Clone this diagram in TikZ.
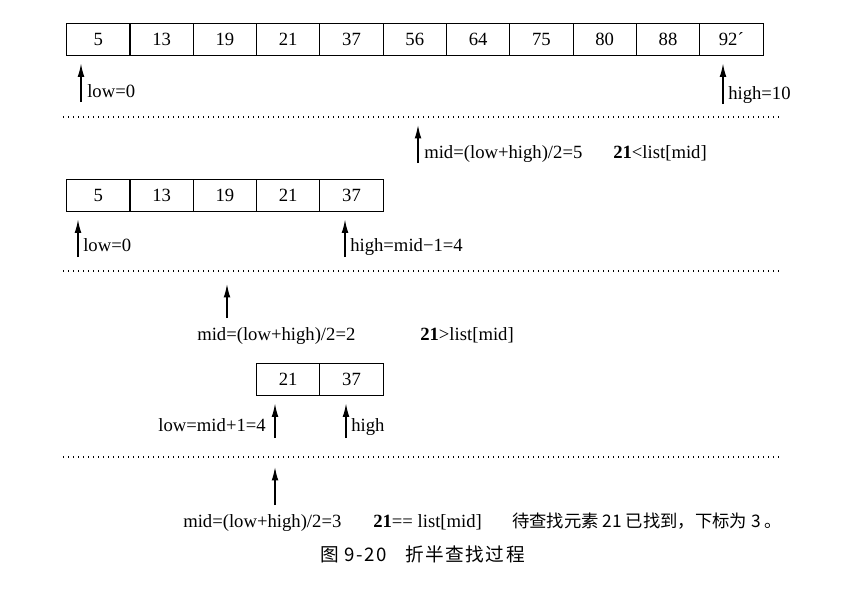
\documentclass[tikz,border=0pt]{standalone}
\usepackage{fontspec}
\setmainfont{Liberation Serif}
\newfontfamily\cjk{Noto Sans CJK SC}
\newfontfamily\cjkwide[LetterSpace=8]{Noto Sans CJK SC}
\usetikzlibrary{arrows.meta,positioning}
\tikzset{
	cell/.style={draw,line width=0.7pt,minimum width=47.5pt,minimum height=24pt,
		inner sep=0pt,font=\fontsize{14}{16}\selectfont},
	ptr/.style={-{Latex[length=10pt,width=5pt]},line width=1pt},
	gap/.style={shorten >=6pt},
	lbl/.style={inner sep=0pt,font=\fontsize{14}{16}\selectfont},
	zh/.style={inner sep=0pt,font=\fontsize{13}{16}\cjk},
	sep/.style={line width=0.9pt,dash pattern=on 0.75pt off 3pt},
}
\begin{document}
\begin{tikzpicture}[x=0.75pt,y=-0.75pt]
	\useasboundingbox (0,0) rectangle (853,590);
	% whole list
	\foreach \v [count=\i from 0] in {5,13,19,21,37,56,64,75,80,88,92´}
		\node[cell] (a\i) at (98.3+63.3*\i,39) {\v};
	\coordinate (lo1) at (81,102);
	\draw[ptr,gap] (lo1) -- (lo1 |- a0.south);
	\node[lbl,anchor=base west] (lo1t) at (87,97) {low=0};
	\coordinate (hi1) at (723,104);
	\draw[ptr,gap] (hi1) -- (hi1 |- a10.south);
	\node[lbl,anchor=base west] (hi1t) at (728,99) {high=10};
	\draw[sep] (63,117) -- (781,117);
	\coordinate (md1) at (418,163);
	\coordinate (md1t) at (418,125);
	\draw[ptr] (md1) -- (md1t);
	\node[lbl,anchor=base west] (md1l) at (424,158) {mid=(low+high)/2=5};
	\node[lbl,anchor=base west] (cmp1) at (613,158) {\textbf{21}<list[mid]};
	% left half
	\foreach \v [count=\i from 0] in {5,13,19,21,37}
		\node[cell] (b\i) at (98.3+63.3*\i,195) {\v};
	\coordinate (lo2) at (78,257);
	\draw[ptr,gap] (lo2) -- (lo2 |- b0.south);
	\node[lbl,anchor=base west] (lo2t) at (83,251) {low=0};
	\coordinate (hi2) at (345,257);
	\draw[ptr,gap] (hi2) -- (hi2 |- b4.south);
	\node[lbl,anchor=base west] (hi2t) at (350,251) {high=mid−1=4};
	\draw[sep] (63,271) -- (781,271);
	\coordinate (md2) at (227,318);
	\coordinate (md2t) at (227,284);
	\draw[ptr] (md2) -- (md2t);
	\node[lbl,anchor=base west] (md2l) at (197,340) {mid=(low+high)/2=2};
	\node[lbl,anchor=base west] (cmp2) at (420,340) {\textbf{21}>list[mid]};
	% last two
	\foreach \v [count=\i from 3] in {21,37}
		\node[cell] (c\i) at (98.3+63.3*\i,379) {\v};
	\coordinate (lo3) at (275,438);
	\draw[ptr,gap] (lo3) -- (lo3 |- c3.south);
	\node[lbl,anchor=base east] (lo3t) at (266,431) {low=mid+1=4};
	\coordinate (hi3) at (346,438);
	\draw[ptr,gap] (hi3) -- (hi3 |- c4.south);
	\node[lbl,anchor=base west] (hi3t) at (351,431) {high};
	\draw[sep] (63,457) -- (781,457);
	\coordinate (md3) at (275,505);
	\coordinate (md3t) at (275,467);
	\draw[ptr] (md3) -- (md3t);
	\node[lbl,anchor=base west] (md3l) at (183,527) {mid=(low+high)/2=3};
	\node[lbl,anchor=base west] (cmp3) at (373,527) {\textbf{21}== list[mid]};
	\node[zh,anchor=base west] (found) at (512,527) {待查找元素 21 已找到，下标为 3 。};
	\node[zh,anchor=base west,font=\fontsize{14}{16}\cjkwide] (cap) at (320,561) {图 9-20\quad 折半查找过程};
\end{tikzpicture}
\end{document}
